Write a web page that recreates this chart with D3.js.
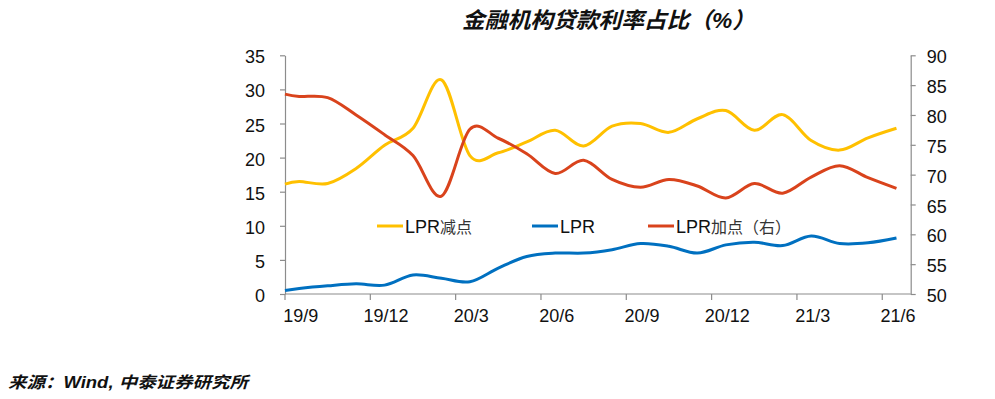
<!DOCTYPE html>
<html><head><meta charset="utf-8">
<script src="https://cdn.jsdelivr.net/npm/d3@7"></script>
<style>
html,body{margin:0;padding:0;background:#fff;}
svg{display:block;}
text{font-family:"Liberation Sans",Arial,"Noto Sans CJK SC",sans-serif;}
</style></head>
<body>
<script>
// ---- data ----
const titleText = "金融机构贷款利率占比（%）";
const sourceText = "来源：Wind, 中泰证券研究所";
const xTickLabels = ["19/9","19/12","20/3","20/6","20/9","20/12","21/3","21/6"];
const xTickMonths = [0,3,6,9,12,15,18,21];           // months after 2019/9
const pointMonths = [-0.5,0,1,2,3,4,5,6,7,8,9,10,11,12,13,14,15,16,17,18,19,20,21];
const lprMinus = [16.1,16.5,16.2,18.4,21.8,24.3,31.4,20.3,20.7,22.3,24.0,21.7,24.6,25.0,23.7,25.7,26.9,24.0,26.3,22.5,21.1,22.9,24.3];
const lpr      = [0.5,0.8,1.2,1.5,1.3,2.8,2.3,1.8,3.8,5.5,6.0,6.0,6.5,7.4,7.0,6.0,7.2,7.6,7.1,8.5,7.4,7.5,8.2];
const lprPlus  = [83.5,83.1,82.9,80.0,76.7,73.2,66.4,77.6,76.1,73.5,70.2,72.4,69.2,67.9,69.2,68.1,66.1,68.5,66.9,69.6,71.5,69.5,67.7];
const leftTicks = [0,5,10,15,20,25,30,35];
const rightTicks = [50,55,60,65,70,75,80,85,90];
const seriesNames = ["LPR减点","LPR","LPR加点（右）"];
const seriesColors = ["#FFC000","#0070C0","#D9431C"];

(function(){
const W = 995, H = 399;
const svg = d3.select("body").append("svg").attr("width", W).attr("height", H);
const pL = 285, pR = 910.7, pT = 55.3, pB = 294;

const x = d3.scaleLinear().domain([-0.5, 21.5]).range([pL, pR]);
const yL = d3.scaleLinear().domain([0, 35]).range([pB, pT]);
const yR = d3.scaleLinear().domain([50, 90]).range([pB, pT]);
const axisColor = "#8c8c8c";

// x axis
const xg = svg.append("g").attr("transform", `translate(0,${pB})`);
xg.append("line").attr("x1", pL).attr("x2", pR).attr("stroke", axisColor).attr("stroke-width",1.2);
xg.selectAll("line.tk").data(xTickMonths).enter().append("line")
  .attr("class","tk")
  .attr("x1", d => x(d - 0.5)).attr("x2", d => x(d - 0.5))
  .attr("y1", 0).attr("y2", 6).attr("stroke", axisColor).attr("stroke-width",1.2);
xg.selectAll("text").data(xTickLabels).enter().append("text")
  .attr("x", (d,i) => x(xTickMonths[i]) + 1.5).attr("y", 28)
  .attr("text-anchor","middle").attr("font-size", 18).attr("fill","#111")
  .text(d => d);

// left axis
const yAxL = d3.axisLeft(yL).tickValues(leftTicks).tickSize(5).tickPadding(15).tickSizeOuter(0);
const gl = svg.append("g").attr("transform", `translate(${pL},0)`).call(yAxL);
gl.select(".domain").attr("stroke", axisColor).attr("stroke-width",1.2);
gl.selectAll(".tick line").attr("stroke", axisColor).attr("stroke-width",1.2);
gl.selectAll(".tick text").attr("font-size", 18).attr("fill","#111")
  .attr("font-family","'Liberation Sans',Arial,sans-serif").attr("dy","0.42em");

// right axis
const yAxR = d3.axisRight(yR).tickValues(rightTicks).tickSize(5).tickPadding(11).tickSizeOuter(0);
const gr = svg.append("g").attr("transform", `translate(${pR},0)`).call(yAxR);
gr.select(".domain").attr("stroke", axisColor).attr("stroke-width",1.2);
gr.selectAll(".tick line").attr("stroke", axisColor).attr("stroke-width",1.2);
gr.selectAll(".tick text").attr("font-size", 18).attr("fill","#111")
  .attr("font-family","'Liberation Sans',Arial,sans-serif").attr("dy","0.42em");

// lines
const curve = d3.curveCardinal.tension(0);
const lineL = d3.line().x((d,i) => x(pointMonths[i])).y(d => yL(d)).curve(curve);
const lineR = d3.line().x((d,i) => x(pointMonths[i])).y(d => yR(d)).curve(curve);
svg.append("path").attr("d", lineL(lprMinus)).attr("fill","none")
  .attr("stroke", seriesColors[0]).attr("stroke-width",3).attr("stroke-linejoin","round");
svg.append("path").attr("d", lineL(lpr)).attr("fill","none")
  .attr("stroke", seriesColors[1]).attr("stroke-width",3).attr("stroke-linejoin","round");
svg.append("path").attr("d", lineR(lprPlus)).attr("fill","none")
  .attr("stroke", seriesColors[2]).attr("stroke-width",3).attr("stroke-linejoin","round");

// legend
const legendX = [377, 532, 648];
const legY = 226;
const lg = svg.append("g");
seriesNames.forEach((name, i) => {
  lg.append("line").attr("x1", legendX[i]).attr("x2", legendX[i] + 26)
    .attr("y1", legY).attr("y2", legY).attr("stroke", seriesColors[i]).attr("stroke-width",3);
  const t = lg.append("text").attr("x", legendX[i] + 28).attr("y", legY + 6.5)
    .attr("font-size", 18).attr("fill","#111");
  const m = name.match(/^([A-Za-z]+)(.*)$/);
  t.append("tspan").text(m[1]);
  if (m[2]) t.append("tspan").attr("font-size", 16).attr("font-family","'Noto Sans CJK SC',sans-serif")
    .attr("fill","#333").text(m[2]);
});

// title
svg.append("text").attr("x", 462).attr("y", 28)
  .attr("font-family","'Noto Sans CJK SC',sans-serif").attr("font-weight","bold")
  .attr("font-style","italic").attr("font-size", 22).attr("fill","#111")
  .attr("textLength", 293).attr("lengthAdjust","spacingAndGlyphs")
  .text(titleText);

// source
svg.append("text").attr("x", 8).attr("y", 388)
  .attr("font-family","'Noto Sans CJK SC',sans-serif").attr("font-weight","bold")
  .attr("font-style","italic").attr("font-size", 16).attr("fill","#111")
  .attr("textLength", 240).attr("lengthAdjust","spacingAndGlyphs")
  .text(sourceText);
})();
</script>
</body></html>
